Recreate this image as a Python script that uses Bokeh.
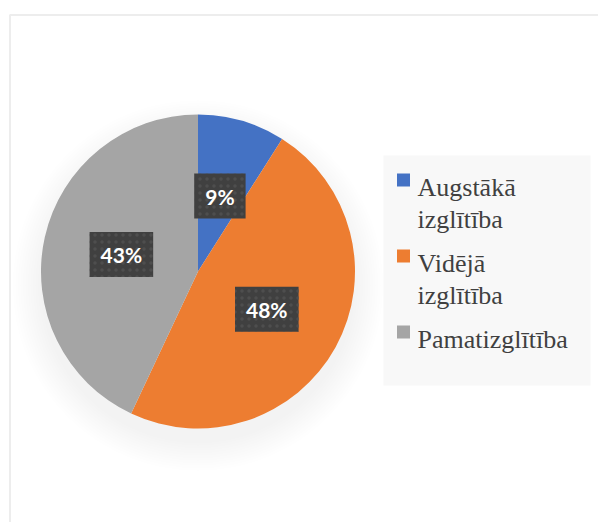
import math
from bokeh.plotting import figure
from bokeh.models import Range1d, ColumnDataSource, BoxAnnotation
from bokeh.core.properties import value
from bokeh.embed import file_html
from bokeh.resources import INLINE

# ---- data ----
categories = ["Augstākā izglītība", "Vidējā izglītība", "Pamatizglītība"]
legend_lines = [["Augstākā", "izglītība"], ["Vidējā", "izglītība"], ["Pamatizglītība"]]
shares = [9, 48, 43]
colors = ["#4472C4", "#ED7D31", "#A5A5A5"]

W, H = 598, 522
p = figure(width=W, height=H, output_backend="svg", toolbar_location=None,
           x_range=Range1d(0, W), y_range=Range1d(0, H),
           min_border=0, min_border_left=0, min_border_right=0,
           min_border_top=0, min_border_bottom=0)
p.axis.visible = False
p.grid.visible = False
p.outline_line_color = None
p.background_fill_color = "white"
p.border_fill_color = "white"

def sy(y):  # screen y -> data y
    return H - y

# chart area border
p.add_layout(BoxAnnotation(left=9.5, right=W + 50, top=sy(14.5), bottom=-50,
                           fill_alpha=0, line_color="#c4c4c4", line_width=2))

cx, cy, r = 197.5, sy(271), 157

# soft shadow
for k in range(12):
    p.circle(x=[cx], y=[cy - 14], radius=r + 1 + 2.5 * k, fill_color="black",
             fill_alpha=0.005, line_color=None)

total = sum(shares)
starts, ends, lx, ly, labels = [], [], [], [], []
cum = 0.0
for s in shares:
    a0 = math.pi / 2 - 2 * math.pi * cum / total
    cum += s
    a1 = math.pi / 2 - 2 * math.pi * cum / total
    starts.append(a0)
    ends.append(a1)
    mid = (a0 + a1) / 2
    lx.append(cx + 0.5 * r * math.cos(mid))
    ly.append(cy + 0.5 * r * math.sin(mid))
    labels.append(f"{s}%")

src = ColumnDataSource(dict(start=starts, end=ends, color=colors, cat=categories,
                            lx=lx, ly=ly, label=labels))
p.wedge(x=cx, y=cy, radius=r, start_angle="start", end_angle="end",
        direction="clock", fill_color="color", line_color="white", line_width=0,
        source=src)

p.text(x="lx", y="ly", text="label", source=src,
       text_font=value("Lato"), text_font_style="bold", text_font_size="21px",
       text_color="white", text_align="center", text_baseline="middle",
       background_fill_color="#404040",
       background_hatch_pattern="dot", background_hatch_color="#4e4e4e",
       background_hatch_scale=7, background_hatch_weight=1.2,
       padding=dict(left=11, right=11, top=10, bottom=10))

# legend
p.quad(left=383, right=590, top=sy(155), bottom=sy(385),
       fill_color="#f8f8f8", line_color=None)
base = 187
tx, ty, tt = [], [], []
mx, my = [], []
for i, lines in enumerate(legend_lines):
    mx.append(403)
    my.append(sy(base - 7.5))
    for j, ln in enumerate(lines):
        tx.append(417)
        ty.append(sy(base + 32 * j))
        tt.append(ln)
    base += 32 * len(lines) + 12
p.scatter(x=mx, y=my, marker="square", size=13, fill_color=colors, line_color=None)
p.text(x=tx, y=ty, text=tt, text_font=value("Liberation Serif"),
       text_font_size="26px", text_color="#404040",
       text_align="left", text_baseline="alphabetic")

open("out.html", "w").write(file_html(p, INLINE))
